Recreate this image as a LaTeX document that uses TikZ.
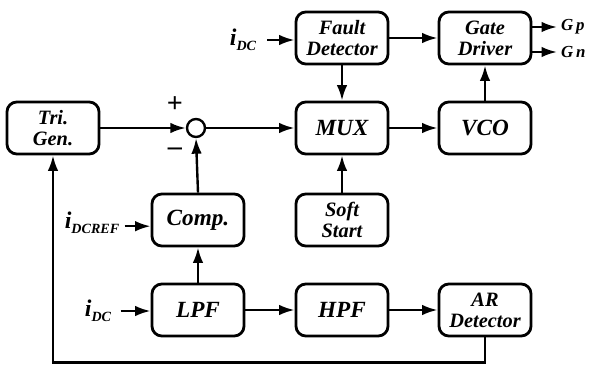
\documentclass[tikz,border=0pt]{standalone}
\usepackage{fontspec}
\setmainfont{Liberation Serif}
\usetikzlibrary{arrows.meta}

\tikzset{
  blk/.style={draw, line width=2pt, rounded corners=7pt, minimum width=2.3cm, minimum height=1.3cm,
    align=center, inner sep=1pt, font=\fontsize{16.5}{17}\selectfont\bfseries\itshape},
  blktwo/.style={blk, font=\fontsize{14.5}{15}\selectfont\bfseries\itshape},
  sig/.style={font=\fontsize{17}{17}\selectfont\bfseries\itshape, inner sep=0pt},
  outlbl/.style={font=\fontsize{12}{12}\selectfont\bfseries\itshape, inner sep=0pt, anchor=west},
}
\newcommand{\cur}[1]{i\raisebox{-0.45ex}{\fontsize{10}{10}\selectfont #1}}

\begin{document}
\begin{tikzpicture}[x=0.025cm, y=-0.025cm, line width=1.7pt, >={Latex[length=11pt,width=7.5pt]}]
\useasboundingbox (0,0) rectangle (590,367);
% blocks
\node[blktwo] (tri) at (53,128) {Tri.\\Gen.};
\node[draw, circle, minimum size=0.45cm, inner sep=0pt] (sum) at (196,128) {};
\node[blktwo] (fault) at (342,38) {Fault\\Detector};
\node[blktwo] (gate) at (485,38) {Gate\\Driver};
\node[blk] (mux) at (342,128) {MUX};
\node[blk] (vco) at (485,128) {VCO};
\node[blktwo] (soft) at (342,220) {Soft\\Start};
\node[blk] (comp) at (198,220) {Comp.};
\node[blk] (lpf) at (198,310) {LPF};
\node[blk] (hpf) at (342,310) {HPF};
\node[blktwo] (ar) at (485,310) {AR\\Detector};
% signal labels
\node[sig] (idctop) at (243,40) {\cur{DC}};
\node[sig] (idcref) at (92,223) {\cur{DCREF}};
\node[sig] (idcbot) at (98,311) {\cur{DC}};
\node[font=\fontsize{20}{20}\selectfont\bfseries] (plus) at (175,105) {+};
\node[font=\fontsize{20}{20}\selectfont\bfseries] (minus) at (175,152) {\textendash};
\coordinate (gpend) at (557,27);
\coordinate (gnend) at (557,52);
\node[outlbl] (gp) at (560,27) {G\,p};
\node[outlbl] (gn) at (560,52) {G\,n};
% connectors
\draw[->] (idctop.east) ++(7pt,0) coordinate (idctail) -- (fault.west |- idctail);
\draw[->] (idcref.east) ++(3pt,-0.08cm) coordinate (reftail) -- (comp.west |- reftail);
\draw[->] (idcbot.east) ++(6pt,0) coordinate (bottail) -- (lpf.west |- bottail);
\draw[->] (tri.east) -- (sum.west);
\draw[->] (sum.east) -- (mux.west);
\draw[->] (comp.north) -- (sum.south);
\draw[->] (lpf.north) -- (comp.south);
\draw[->] (lpf.east) -- (hpf.west);
\draw[->] (hpf.east) -- (ar.west);
\draw[->] (fault.south) -- (mux.north);
\draw[->] (soft.north) -- (mux.south);
\draw[->] (fault.east) -- (gate.west);
\draw[->] (mux.east) -- (vco.west);
\draw[->] (vco.north) -- (gate.south);
\draw[->] (gate.east |- gpend) -- (gpend);
\draw[->] (gate.east |- gnend) -- (gnend);
\draw[->] (ar.south) -- ++(0,25) -| (tri.south);
\end{tikzpicture}
\end{document}
